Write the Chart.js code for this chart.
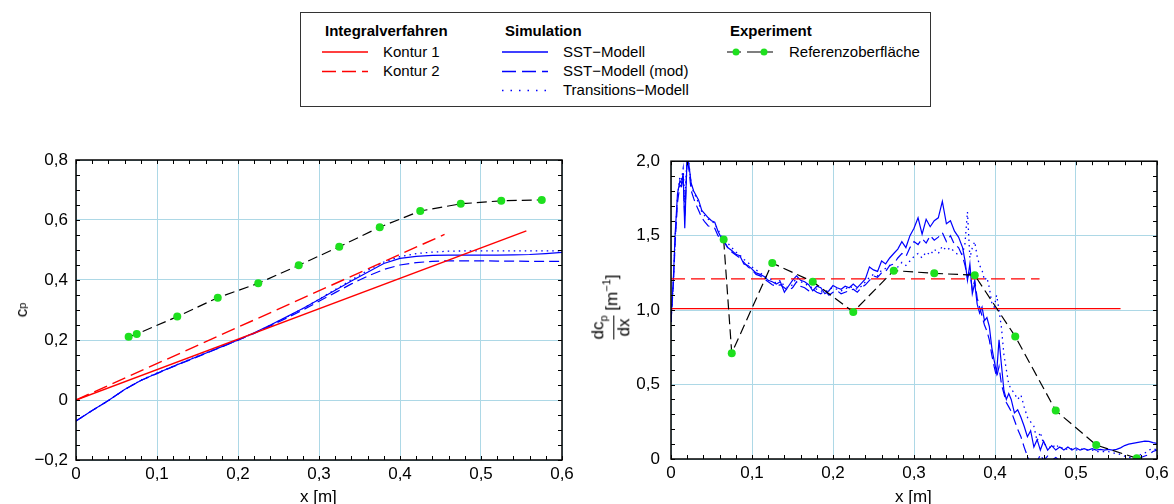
<!DOCTYPE html>
<html>
<head>
<meta charset="utf-8">
<script src="https://cdn.jsdelivr.net/npm/chart.js@4/dist/chart.umd.min.js"></script>
<style>
  body { margin: 0; background: #fff; width: 1174px; height: 504px; overflow: hidden; position: relative;
         font-family: "Liberation Sans", Arial, sans-serif; color: #000; }
  canvas { position: absolute; }
  #cLeft { left: 0; top: 140px; }
  #cRight { left: 580px; top: 140px; }
  .legbox { position: absolute; left: 300px; top: 12px; width: 629px; height: 93px; border: 1.5px solid #333; }
  .lt { position: absolute; font-size: 15px; line-height: 16px; white-space: nowrap; }
  .lt.h { font-weight: bold; }
  .axt { position: absolute; font-size: 17px; line-height: 20px; white-space: nowrap; }
  .rot { position: absolute; transform: translate(-50%, -50%) rotate(-90deg); font-size: 17px; white-space: nowrap;
         display: flex; align-items: center; }
  .frac { display: inline-flex; flex-direction: column; align-items: center; line-height: 17px; }
  .frac .bar { width: 100%; border-top: 1.3px solid #000; margin: 1px 0; }
  sub, sup { font-size: 11px; }
</style>
</head>
<body>
<div class="legbox"></div>
<svg width="1174" height="120" style="position:absolute;left:0;top:0">
  <line x1="322" y1="52" x2="368" y2="52" stroke="#ff0000" stroke-width="1.4"/>
  <line x1="322" y1="71.5" x2="368" y2="71.5" stroke="#ff0000" stroke-width="1.4" stroke-dasharray="14 6"/>
  <line x1="502" y1="52" x2="548" y2="52" stroke="#0000ff" stroke-width="1.3"/>
  <line x1="502" y1="71.5" x2="548" y2="71.5" stroke="#0000ff" stroke-width="1.3" stroke-dasharray="14 6"/>
  <line x1="502" y1="90.5" x2="548" y2="90.5" stroke="#0000ff" stroke-width="1.3" stroke-dasharray="1.5 7"/>
  <line x1="727" y1="52" x2="773" y2="52" stroke="#000" stroke-width="1.2" stroke-dasharray="14 6"/>
  <circle cx="736" cy="52" r="3.5" fill="#1ee01e"/>
  <circle cx="764" cy="52" r="3.5" fill="#1ee01e"/>
</svg>
<div class="lt h" style="left:325px;top:23px">Integralverfahren</div>
<div class="lt" style="left:383px;top:44px">Kontur 1</div>
<div class="lt" style="left:383px;top:63px">Kontur 2</div>
<div class="lt h" style="left:505px;top:23px">Simulation</div>
<div class="lt" style="left:563px;top:44px">SST−Modell</div>
<div class="lt" style="left:563px;top:63px">SST−Modell (mod)</div>
<div class="lt" style="left:563px;top:82px">Transitions−Modell</div>
<div class="lt h" style="left:730px;top:23px">Experiment</div>
<div class="lt" style="left:789px;top:44px">Referenzoberfläche</div>

<canvas id="cLeft" width="580" height="364"></canvas>
<canvas id="cRight" width="594" height="364"></canvas>

<div class="axt" style="left:300px;top:487px">x [m]</div>
<div class="axt" style="left:895px;top:487px">x [m]</div>
<div class="rot" style="left:22px;top:310px">c<sub>p</sub></div>
<div class="rot" style="left:611px;top:307px">
  <span class="frac"><span>dc<sub>p</sub></span><span class="bar"></span><span>dx</span></span>
  <span>&nbsp;[m<sup>−1</sup>]</span>
</div>

<script>
// Integralverfahren
const kontur1X = [0, 0.556];
const kontur1Cp = [0, 0.564];
const kontur2X = [0, 0.455];
const kontur2Cp = [0, 0.552];
const kontur1DcpX = [0, 0.555];
const kontur1Dcp = [1.01, 1.01];
const kontur2DcpX = [0, 0.455];
const kontur2Dcp = [1.21, 1.21];

// Experiment
const expX = [0.065, 0.075, 0.125, 0.175, 0.225, 0.275, 0.325, 0.375, 0.425, 0.475, 0.525, 0.575];
const expCp = [0.211, 0.22, 0.278, 0.341, 0.389, 0.449, 0.511, 0.576, 0.63, 0.654, 0.664, 0.667];
const expDcp = [1.474, 0.711, 1.316, 1.191, 0.988, 1.265, 1.247, 1.234, 0.823, 0.325, 0.094, 0.005];

// Simulation, c_p
const cpX = [0, 0.02, 0.04, 0.06, 0.08, 0.1, 0.12, 0.14, 0.16, 0.18, 0.2, 0.22, 0.24, 0.26, 0.28, 0.3,
  0.32, 0.34, 0.36, 0.38, 0.4, 0.42, 0.44, 0.46, 0.48, 0.5, 0.52, 0.54, 0.56, 0.58, 0.6];
const sstCp = [-0.07, -0.035, -0.002, 0.035, 0.065, 0.089, 0.112, 0.134, 0.156, 0.178, 0.2, 0.224, 0.25, 0.277, 0.305, 0.335,
  0.366, 0.397, 0.426, 0.455, 0.472, 0.479, 0.482, 0.483, 0.483, 0.483, 0.483, 0.484, 0.485, 0.488, 0.492];
const sstModCp = [-0.07, -0.035, -0.002, 0.035, 0.065, 0.088, 0.111, 0.133, 0.155, 0.177, 0.199, 0.222, 0.247, 0.273, 0.3, 0.329,
  0.358, 0.387, 0.413, 0.435, 0.45, 0.458, 0.462, 0.464, 0.464, 0.464, 0.463, 0.463, 0.462, 0.462, 0.462];
const transCp = [-0.07, -0.035, -0.002, 0.035, 0.066, 0.09, 0.113, 0.135, 0.157, 0.179, 0.2, 0.223, 0.249, 0.276, 0.305, 0.336,
  0.368, 0.4, 0.432, 0.46, 0.478, 0.488, 0.493, 0.496, 0.497, 0.497, 0.497, 0.497, 0.497, 0.497, 0.497];

// Simulation, dc_p/dx
const dcpX = [0, 0.003, 0.005, 0.008, 0.011, 0.013, 0.015, 0.017, 0.02, 0.022, 0.025, 0.028, 0.03, 0.034, 0.038, 0.042,
  0.046, 0.05, 0.054, 0.058, 0.062, 0.066, 0.07, 0.075, 0.08, 0.085, 0.09, 0.095, 0.1, 0.105, 0.11, 0.115,
  0.12, 0.125, 0.13, 0.135, 0.14, 0.145, 0.15, 0.155, 0.16, 0.165, 0.17, 0.175, 0.18, 0.185, 0.19, 0.195,
  0.2, 0.205, 0.21, 0.215, 0.22, 0.225, 0.23, 0.235, 0.24, 0.245, 0.25, 0.255, 0.26, 0.265, 0.27, 0.275,
  0.28, 0.285, 0.29, 0.295, 0.3, 0.305, 0.31, 0.315, 0.32, 0.325, 0.33, 0.335, 0.34, 0.345, 0.35, 0.355,
  0.36, 0.363, 0.366, 0.369, 0.372, 0.375, 0.378, 0.381, 0.384, 0.387, 0.39, 0.393, 0.396, 0.399, 0.402, 0.405,
  0.408, 0.411, 0.414, 0.417, 0.42, 0.424, 0.428, 0.432, 0.436, 0.44, 0.444, 0.448, 0.452, 0.456, 0.46, 0.465,
  0.47, 0.475, 0.48, 0.485, 0.49, 0.495, 0.5, 0.505, 0.51, 0.515, 0.52, 0.525, 0.53, 0.535, 0.54, 0.545,
  0.55, 0.555, 0.56, 0.565, 0.57, 0.575, 0.58, 0.585, 0.59, 0.595, 0.6];
const sstDcp = [0.92, 1.22, 1.5, 1.78, 1.87, 1.85, 1.92, 1.55, 2.05, 1.98, 1.85, 1.8, 1.78, 1.74, 1.67, 1.645,
  1.62, 1.6, 1.59, 1.53, 1.485, 1.455, 1.42, 1.4, 1.375, 1.365, 1.31, 1.3, 1.275, 1.25, 1.24, 1.225,
  1.2, 1.19, 1.175, 1.19, 1.12, 1.16, 1.2, 1.23, 1.2, 1.19, 1.17, 1.13, 1.16, 1.15, 1.11, 1.13,
  1.165, 1.15, 1.14, 1.16, 1.15, 1.175, 1.15, 1.18, 1.21, 1.29, 1.27, 1.26, 1.33, 1.31, 1.35, 1.38,
  1.41, 1.46, 1.42, 1.5, 1.55, 1.62, 1.51, 1.61, 1.56, 1.6, 1.62, 1.73, 1.58, 1.6, 1.53, 1.49,
  1.42, 1.33, 1.2, 1.31, 1.11, 1.18, 1.04, 0.98, 1.02, 0.93, 0.95, 0.89, 0.75, 0.66, 0.58, 0.8,
  0.63, 0.46, 0.4, 0.44, 0.4, 0.31, 0.33, 0.28, 0.22, 0.15, 0.19, 0.08, 0.13, 0.06, 0.12, 0.06,
  0.09, 0.06, 0.08, 0.06, 0.08, 0.06, 0.075, 0.06, 0.07, 0.06, 0.07, 0.06, 0.065, 0.06, 0.065, 0.06,
  0.065, 0.075, 0.09, 0.1, 0.105, 0.11, 0.115, 0.12, 0.118, 0.11, 0.105];
const sstModDcp = [0.92, 1.18, 1.44, 1.72, 1.84, 1.83, 1.9, 1.62, 2.02, 1.95, 1.8, 1.75, 1.72, 1.67, 1.62, 1.59,
  1.565, 1.56, 1.55, 1.5, 1.47, 1.46, 1.42, 1.39, 1.37, 1.35, 1.32, 1.29, 1.27, 1.24, 1.23, 1.21,
  1.19, 1.17, 1.16, 1.17, 1.15, 1.13, 1.15, 1.19, 1.16, 1.15, 1.13, 1.14, 1.12, 1.11, 1.13, 1.1,
  1.12, 1.13, 1.11, 1.12, 1.13, 1.14, 1.12, 1.15, 1.17, 1.2, 1.23, 1.22, 1.25, 1.26, 1.3, 1.31,
  1.35, 1.38, 1.36, 1.42, 1.46, 1.44, 1.48, 1.45, 1.5, 1.47, 1.49, 1.52, 1.46, 1.5, 1.44, 1.42,
  1.36, 1.3, 1.22, 1.25, 1.14, 1.2, 1.08, 1.02, 0.96, 0.9, 0.86, 0.8, 0.7, 0.62, 0.55, 0.62,
  0.5, 0.44, 0.38, 0.35, 0.32, 0.26, 0.2, 0.15, 0.08, 0.02, -0.03, 0.01, -0.02, 0.03, -0.01, 0.02,
  -0.01, 0.01, -0.01, 0.0, -0.01, -0.02, -0.02, -0.02, -0.02, -0.02, -0.02, -0.02, -0.02, -0.02, -0.02, -0.02,
  -0.02, -0.02, -0.02, -0.02, -0.01, 0.0, 0.01, 0.02, 0.03, 0.05, 0.06];
const transDcp = [0.92, 1.2, 1.47, 1.76, 1.9, 1.88, 1.95, 1.72, 2.05, 1.99, 1.84, 1.79, 1.77, 1.72, 1.66, 1.63,
  1.61, 1.6, 1.58, 1.54, 1.5, 1.48, 1.45, 1.42, 1.39, 1.37, 1.34, 1.32, 1.29, 1.27, 1.25, 1.23,
  1.22, 1.2, 1.18, 1.2, 1.16, 1.15, 1.17, 1.22, 1.19, 1.18, 1.16, 1.15, 1.14, 1.13, 1.12, 1.14,
  1.15, 1.14, 1.13, 1.14, 1.16, 1.15, 1.14, 1.16, 1.19, 1.22, 1.24, 1.23, 1.27, 1.28, 1.3, 1.27,
  1.29, 1.32, 1.3, 1.33, 1.36, 1.38, 1.35, 1.39, 1.37, 1.41, 1.38, 1.43, 1.4, 1.42, 1.39, 1.37,
  1.38, 1.45, 1.66, 1.35, 1.42, 1.46, 1.36, 1.3, 1.27, 1.2, 1.22, 1.15, 1.05, 1.02, 1.1, 1.0,
  0.88, 0.7, 0.6, 0.5, 0.47, 0.44, 0.4, 0.43, 0.35, 0.28, 0.25, 0.22, 0.12, 0.18, 0.1, 0.09,
  0.07, 0.1, 0.07, 0.08, 0.06, 0.07, 0.06, 0.07, 0.06, 0.06, 0.06, 0.05, 0.05, 0.05, 0.05, 0.04,
  0.04, 0.03, 0.02, 0.01, 0.01, 0.02, 0.03, 0.04, 0.06, 0.07, 0.06];

const RED = '#ff0000';
const BLUE = '#0000ff';
const GREEN = '#1ee01e';
const GRID = '#add8e6';

Chart.defaults.font.family = '"Liberation Sans", Arial, sans-serif';
Chart.defaults.font.size = 17;
Chart.defaults.color = '#000';

function pts(xs, ys) {
    return xs.map((x, i) => ({ x: x, y: ys[i] }));
}

function fmt(v) {
    const r = Math.round(v * 10) / 10;
    if (r === 0) return '0';
    return r.toFixed(1).replace('.', ',').replace('-', '\u2212');
}

// frame round the plot and small inward ticks on all four sides
const frameTicks = {
    id: 'frameTicks',
    afterDraw(chart, args, opts) {
        const { ctx, chartArea: a, scales } = chart;
        const sx = scales.x, sy = scales.y;
        ctx.save();
        ctx.strokeStyle = '#000';
        ctx.lineWidth = 1;
        ctx.beginPath();
        let n = Math.round((sx.max - sx.min) / opts.xStep);
        for (let i = 0; i <= n; i++) {
            const p = Math.round(sx.getPixelForValue(sx.min + i * opts.xStep)) + 0.5;
            ctx.moveTo(p, a.bottom); ctx.lineTo(p, a.bottom - 4);
            ctx.moveTo(p, a.top); ctx.lineTo(p, a.top + 4);
        }
        n = Math.round((sy.max - sy.min) / opts.yStep);
        for (let i = 0; i <= n; i++) {
            const p = Math.round(sy.getPixelForValue(sy.min + i * opts.yStep)) + 0.5;
            ctx.moveTo(a.left, p); ctx.lineTo(a.left + 4, p);
            ctx.moveTo(a.right, p); ctx.lineTo(a.right - 4, p);
        }
        ctx.stroke();
        ctx.lineWidth = 1.5;
        ctx.strokeRect(a.left, a.top, a.width, a.height);
        ctx.restore();
    }
};

function makeChart(id, cfg) {
    const datasets = [
        { data: pts(expX, cfg.exp), borderColor: '#000', borderWidth: 1.2, borderDash: [10, 5],
          pointRadius: 4, pointBackgroundColor: GREEN, pointBorderColor: GREEN, pointBorderWidth: 0 },
        { data: pts(cfg.k1x, cfg.k1), borderColor: RED, borderWidth: 1.4 },
        { data: pts(cfg.k2x, cfg.k2), borderColor: RED, borderWidth: 1.4, borderDash: [14, 6] },
        { data: pts(cfg.simX, cfg.sst), borderColor: BLUE, borderWidth: 1.2 },
        { data: pts(cfg.simX, cfg.mod), borderColor: BLUE, borderWidth: 1.2, borderDash: [10, 5] },
        { data: pts(cfg.simX, cfg.trans), borderColor: BLUE, borderWidth: 1.3, borderDash: [1.5, 4] }
    ];
    datasets.forEach((d, i) => {
        d.showLine = true;
        d.tension = 0;
        if (i > 0) d.pointRadius = 0;
    });

    return new Chart(document.getElementById(id), {
        type: 'scatter',
        data: { datasets: datasets },
        options: {
            responsive: false,
            animation: false,
            layout: { padding: { top: 20, right: cfg.padRight, left: 0, bottom: 0 } },
            plugins: {
                legend: { display: false },
                tooltip: { enabled: false },
                frameTicks: { xStep: 0.02, yStep: cfg.yMinor }
            },
            scales: {
                x: {
                    type: 'linear', min: 0, max: 0.6,
                    border: { display: false },
                    grid: { color: GRID, lineWidth: 1, drawTicks: false },
                    ticks: { stepSize: 0.1, padding: 4, autoSkip: false, maxRotation: 0, callback: fmt },
                    afterFit: (s) => { s.height = cfg.xHeight; }
                },
                y: {
                    type: 'linear', min: cfg.yMin, max: cfg.yMax,
                    border: { display: false },
                    grid: { color: GRID, lineWidth: 1, drawTicks: false },
                    ticks: { stepSize: cfg.yStep, padding: cfg.yPad, autoSkip: false, callback: fmt },
                    afterFit: (s) => { s.width = cfg.yWidth; }
                }
            }
        },
        plugins: [frameTicks]
    });
}

makeChart('cLeft', {
    exp: expCp, k1x: kontur1X, k1: kontur1Cp, k2x: kontur2X, k2: kontur2Cp,
    simX: cpX, sst: sstCp, mod: sstModCp, trans: transCp,
    yMin: -0.2, yMax: 0.8, yStep: 0.2, yMinor: 0.05,
    yWidth: 76, xHeight: 44, padRight: 18, yPad: 8
});

makeChart('cRight', {
    exp: expDcp, k1x: kontur1DcpX, k1: kontur1Dcp, k2x: kontur2DcpX, k2: kontur2Dcp,
    simX: dcpX, sst: sstDcp, mod: sstModDcp, trans: transDcp,
    yMin: 0, yMax: 2, yStep: 0.5, yMinor: 0.1,
    yWidth: 91, xHeight: 45, padRight: 17, yPad: 11
});
</script>
</body>
</html>
